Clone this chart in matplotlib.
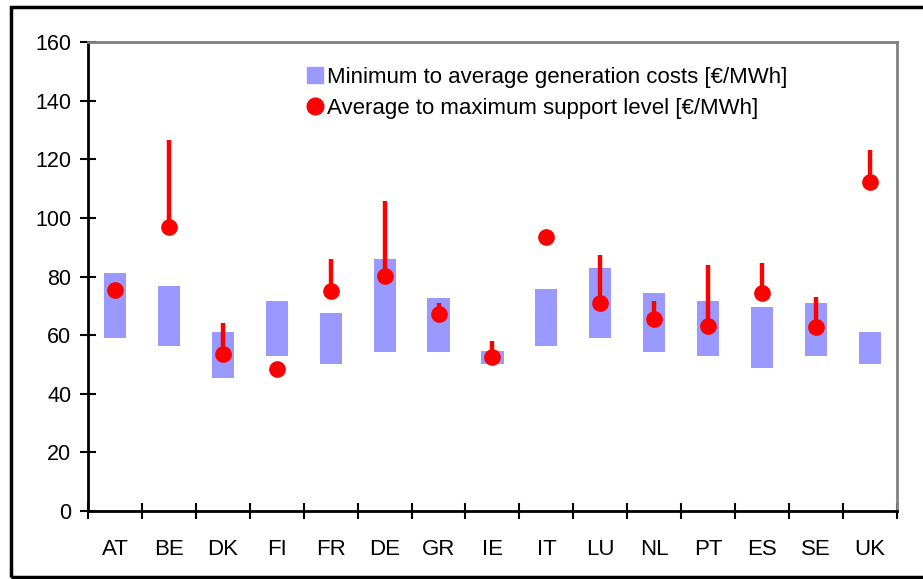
import numpy as np
import matplotlib
matplotlib.use("Agg")
import matplotlib.pyplot as plt
from matplotlib.lines import Line2D
from matplotlib.patches import Rectangle

plt.rcParams['font.family'] = ['Liberation Sans', 'DejaVu Sans']

countries = ["AT", "BE", "DK", "FI", "FR", "DE", "GR", "IE", "IT", "LU", "NL", "PT", "ES", "SE", "UK"]
# generation costs range [EUR/MWh]
cost_min = [59, 56.3, 45.3, 52.9, 50.2, 54.3, 54.3, 50.2, 56.3, 58.9, 54.3, 52.9, 48.7, 52.9, 50.2]
cost_avg = [81.3, 76.6, 61, 71.8, 67.7, 86.1, 72.6, 54.7, 75.9, 82.8, 74.5, 71.8, 69.7, 71.1, 60.9]
# support level [EUR/MWh]
support_avg = [75.3, 97, 53.6, 48.4, 75.2, 80.2, 67.1, 52.7, 93.6, 71.1, 65.4, 63.1, 74.5, 62.9, 112.4]
support_max = [75.3, 126.4, 64, 48.4, 85.9, 105.8, 70.9, 58.1, 93.6, 87.4, 71.8, 84, 84.7, 73.1, 123.2]

blue = "#9999ff"
red = "#ff0000"

fig = plt.figure(figsize=(9.23, 5.79), dpi=100)
ax = fig.add_axes([0.0953, 0.1174, 0.8765, 0.8101])

x = np.arange(len(countries))
ax.bar(x, np.array(cost_avg) - np.array(cost_min), bottom=cost_min, width=0.41,
       color=blue, zorder=2)
ax.vlines(x, support_avg, support_max, color=red, linewidth=3.2, zorder=3)
ax.plot(x, support_avg, 'o', color=red, markersize=11, zorder=4)

ax.set_xlim(-0.5, len(countries) - 0.5)
ax.set_ylim(0, 160)
ax.set_yticks(np.arange(0, 161, 20))
ax.set_xticks(x)
ax.set_xticklabels(countries)
ax.set_xticks(np.arange(-0.5, len(countries), 1), minor=True)
ax.tick_params(axis='x', which='major', length=0, pad=20, labelsize=16)
ax.tick_params(axis='x', which='minor', direction='inout', length=12, width=1.5)
ax.tick_params(axis='y', direction='inout', length=12, width=1.5, pad=6, labelsize=15.5)

for s in ['left', 'bottom']:
    ax.spines[s].set_color('black')
    ax.spines[s].set_linewidth(2)
for s in ['top', 'right']:
    ax.spines[s].set_color('#808080')
    ax.spines[s].set_linewidth(2)

handles = [
    Line2D([], [], marker='s', linestyle='none', color=blue, markersize=11),
    Line2D([], [], marker='o', linestyle='none', color=red, markersize=12),
]
labels = ["Minimum to average generation costs [€/MWh]",
          "Average to maximum support level [€/MWh]"]
ax.legend(handles, labels, loc='upper left', bbox_to_anchor=(0.242, 0.99),
          frameon=False, fontsize=16, handletextpad=0.05, handlelength=1.0,
          labelspacing=0.45)

fig.patches.append(Rectangle((0.012, 0.004), 1.2, 0.984, transform=fig.transFigure,
                             fill=False, edgecolor='black', linewidth=2.5))

fig.savefig("out.png", dpi=100)
